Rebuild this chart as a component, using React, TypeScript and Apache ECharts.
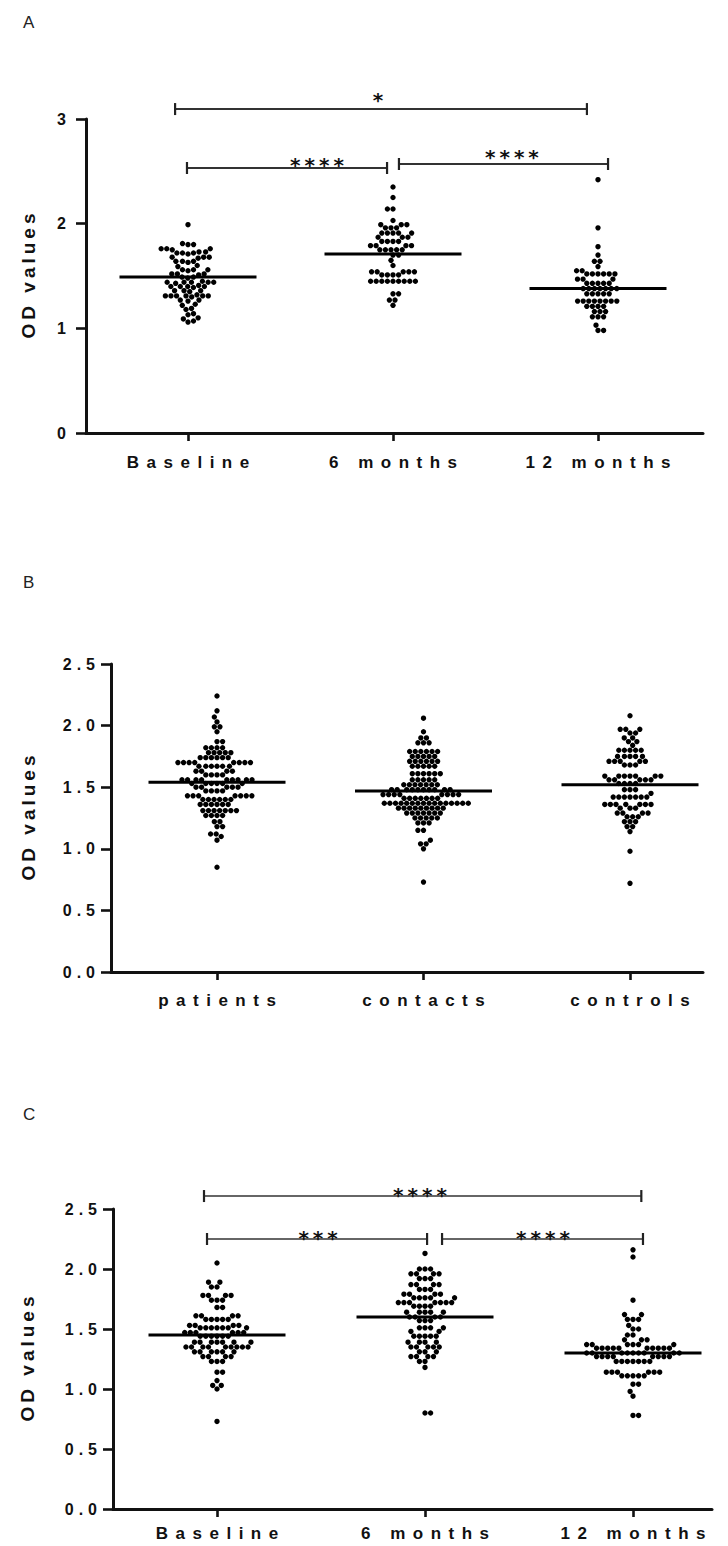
import React, { useEffect, useRef } from "react";
import * as echarts from "echarts";

// ---------------- data ----------------
const categoriesA = ["Baseline", "6 months", "12 months"];
const categoriesB = ["patients", "contacts", "controls"];
const categoriesC = ["Baseline", "6 months", "12 months"];

const yTicksA = [0, 1, 2, 3];
const yTicksB = [0, 0.5, 1.0, 1.5, 2.0, 2.5];
const yTicksC = [0, 0.5, 1.0, 1.5, 2.0, 2.5];

const mediansA = [1.49, 1.71, 1.38];
const mediansB = [1.54, 1.47, 1.52];
const mediansC = [1.45, 1.6, 1.3];

const aBaseline = [
  1.99,
  1.81, 1.8, 1.8,
  1.76, 1.76, 1.75, 1.76,
  1.72, 1.73, 1.72, 1.71, 1.72, 1.73,
  1.68, 1.68, 1.67, 1.68,
  1.64, 1.64, 1.63, 1.64,
  1.6, 1.59,
  1.56, 1.56, 1.55, 1.56,
  1.52, 1.52, 1.51, 1.52,
  1.49, 1.49, 1.48,
  1.44, 1.44, 1.44, 1.45, 1.44, 1.43, 1.44,
  1.4, 1.4, 1.39, 1.4, 1.4, 1.41,
  1.36, 1.36, 1.35, 1.36,
  1.31, 1.31, 1.32, 1.31, 1.31, 1.3, 1.31, 1.31,
  1.27, 1.27, 1.26,
  1.23, 1.22,
  1.19, 1.18,
  1.14, 1.13,
  1.1, 1.09,
  1.06, 1.07,
];
const a6months = [
  2.35, 2.25, 2.14, 2.14, 2.03,
  1.99, 1.99, 1.99,
  1.96, 1.96, 1.96,
  1.91, 1.91, 1.91, 1.91, 1.91,
  1.87, 1.87, 1.87,
  1.83, 1.83, 1.83, 1.83,
  1.79, 1.79, 1.79, 1.79,
  1.75, 1.75, 1.75, 1.75, 1.75,
  1.7, 1.7,
  1.65, 1.6,
  1.54, 1.54, 1.54, 1.54, 1.54,
  1.51, 1.51, 1.51, 1.51,
  1.45, 1.45, 1.45, 1.45, 1.45, 1.45, 1.45, 1.45, 1.45,
  1.33, 1.33,
  1.27, 1.27,
  1.22,
];
const a12months = [
  2.42, 1.96, 1.78, 1.7, 1.64, 1.64, 1.59, 1.55, 1.55,
  1.52, 1.52, 1.52, 1.52, 1.52, 1.52,
  1.47, 1.47, 1.47,
  1.43, 1.43, 1.43, 1.43, 1.43,
  1.38, 1.38, 1.38, 1.38, 1.38, 1.38, 1.38,
  1.33, 1.33, 1.33, 1.33, 1.33,
  1.26, 1.26, 1.26, 1.26, 1.26, 1.26, 1.26, 1.26,
  1.21, 1.21, 1.21, 1.21,
  1.16, 1.16, 1.16,
  1.11, 1.11, 1.11,
  1.03,
  0.98, 0.98,
];

const bPatients = [
  2.24, 2.12, 2.07, 2.03, 1.99, 1.99, 1.95,
  1.87, 1.87,
  1.82, 1.82, 1.82, 1.82,
  1.78, 1.78, 1.78, 1.78, 1.78,
  1.74, 1.74, 1.74, 1.74, 1.74, 1.74,
  1.7, 1.7, 1.7, 1.7, 1.7, 1.7, 1.7, 1.7,
  1.67, 1.67, 1.67, 1.67, 1.67, 1.67,
  1.63, 1.63, 1.63, 1.63,
  1.6, 1.6, 1.6, 1.6,
  1.56, 1.56, 1.56, 1.56, 1.56, 1.56, 1.56, 1.56, 1.56,
  1.53, 1.53, 1.53, 1.53, 1.53, 1.53,
  1.5, 1.5, 1.5, 1.5, 1.5,
  1.47, 1.47, 1.47, 1.47,
  1.43, 1.43, 1.43, 1.43, 1.43, 1.43, 1.43,
  1.4, 1.4, 1.4, 1.4, 1.4, 1.4,
  1.36, 1.36, 1.36, 1.36, 1.36, 1.36,
  1.31, 1.31, 1.31, 1.31, 1.31, 1.31, 1.31,
  1.27, 1.27, 1.27, 1.27,
  1.22, 1.22,
  1.18, 1.18,
  1.12, 1.12,
  1.1, 1.07,
  0.85,
];
const bContacts = [
  2.06, 1.95, 1.9, 1.9,
  1.86, 1.86, 1.86,
  1.79, 1.79, 1.79, 1.79, 1.79, 1.79,
  1.75, 1.75, 1.75, 1.75, 1.75,
  1.71, 1.71, 1.71, 1.71, 1.71, 1.71,
  1.67, 1.67, 1.67, 1.67, 1.67,
  1.61, 1.61, 1.61, 1.61, 1.61, 1.61,
  1.56, 1.56, 1.56, 1.56, 1.56,
  1.52, 1.52, 1.52, 1.52, 1.52, 1.52, 1.52,
  1.48, 1.48, 1.48, 1.48, 1.48, 1.48, 1.48, 1.48, 1.48, 1.48,
  1.44, 1.44, 1.44, 1.44, 1.44, 1.44, 1.44, 1.44,
  1.41, 1.41, 1.41, 1.41, 1.41, 1.41, 1.41,
  1.37, 1.37, 1.37, 1.37, 1.37, 1.37, 1.37, 1.37, 1.37, 1.37, 1.37, 1.37, 1.37, 1.37, 1.37, 1.37,
  1.33, 1.33, 1.33, 1.33, 1.33, 1.33, 1.33, 1.33, 1.33,
  1.29, 1.29, 1.29, 1.29, 1.29, 1.29, 1.29,
  1.25, 1.25, 1.25, 1.25, 1.25,
  1.21, 1.21, 1.21,
  1.15, 1.15,
  1.07, 1.04, 1.04, 1.0,
  0.73,
];
const bControls = [
  2.08,
  1.97, 1.97, 1.97,
  1.94, 1.94,
  1.9, 1.9,
  1.87, 1.87,
  1.84,
  1.8, 1.8, 1.8, 1.8, 1.8,
  1.75, 1.75, 1.75, 1.75, 1.75,
  1.71, 1.71, 1.71, 1.71, 1.71,
  1.68, 1.68, 1.68,
  1.59, 1.59, 1.59, 1.59, 1.59, 1.59, 1.59,
  1.56, 1.56, 1.56, 1.56, 1.56,
  1.53, 1.53, 1.53, 1.53,
  1.48, 1.48, 1.48,
  1.45,
  1.42, 1.42, 1.42, 1.42, 1.42, 1.42, 1.42,
  1.36, 1.36, 1.36, 1.36, 1.36, 1.36, 1.36,
  1.33, 1.33, 1.33,
  1.29, 1.29, 1.29, 1.29,
  1.26, 1.26, 1.26,
  1.22, 1.22, 1.22,
  1.18, 1.18,
  1.14,
  0.98,
  0.72,
];

const cBaseline = [
  2.05,
  1.89, 1.89, 1.85, 1.85,
  1.78, 1.78, 1.78, 1.78,
  1.74, 1.74, 1.74,
  1.68, 1.68,
  1.61, 1.61, 1.61, 1.61,
  1.58, 1.58, 1.58, 1.58, 1.58,
  1.53, 1.53, 1.53, 1.53,
  1.51, 1.51, 1.51, 1.51, 1.51, 1.51, 1.51,
  1.47, 1.47, 1.47, 1.47, 1.47, 1.47,
  1.44, 1.44, 1.44, 1.44, 1.44, 1.44,
  1.39, 1.39, 1.39, 1.39, 1.39, 1.39, 1.39,
  1.35, 1.35, 1.35, 1.35, 1.35, 1.35, 1.35, 1.35, 1.35,
  1.31, 1.31, 1.31, 1.31, 1.31, 1.31,
  1.27, 1.27, 1.27, 1.27,
  1.23, 1.23, 1.23,
  1.14, 1.14,
  1.07, 1.03, 1.03, 1.0,
  0.73,
];
const c6months = [
  2.13,
  2.0, 2.0, 2.0,
  1.96, 1.96, 1.96, 1.96,
  1.92, 1.92, 1.92,
  1.87, 1.87, 1.87, 1.87,
  1.83, 1.83, 1.83,
  1.79, 1.79, 1.79, 1.79,
  1.76, 1.76, 1.76, 1.76, 1.76,
  1.72, 1.72, 1.72, 1.72, 1.72, 1.72, 1.72,
  1.69, 1.69, 1.69, 1.69,
  1.64, 1.64, 1.64, 1.64, 1.64,
  1.6, 1.6, 1.6, 1.6,
  1.57, 1.57, 1.57,
  1.51, 1.51, 1.51, 1.51,
  1.48, 1.48,
  1.44, 1.44, 1.44, 1.44, 1.44,
  1.39, 1.39, 1.39, 1.39,
  1.35, 1.35, 1.35, 1.35, 1.35,
  1.31, 1.31, 1.31,
  1.27, 1.27, 1.27, 1.27,
  1.23, 1.23,
  1.18,
  0.8, 0.8,
];
const c12months = [
  2.16, 2.1, 1.74,
  1.62, 1.62,
  1.58, 1.58, 1.58,
  1.53,
  1.5, 1.5,
  1.45, 1.45,
  1.41, 1.41, 1.41,
  1.37, 1.37, 1.37, 1.37, 1.37, 1.37,
  1.34, 1.34, 1.34, 1.34, 1.34, 1.34, 1.34, 1.34, 1.34, 1.34,
  1.3, 1.3, 1.3, 1.3, 1.3, 1.3, 1.3, 1.3, 1.3,
  1.27, 1.27, 1.27, 1.27, 1.27, 1.27, 1.27, 1.27,
  1.23, 1.23, 1.23, 1.23, 1.23, 1.23, 1.23,
  1.14, 1.14, 1.14, 1.14, 1.14, 1.14,
  1.11, 1.11, 1.11, 1.11, 1.11,
  1.04, 1.04,
  0.98, 0.94,
  0.78, 0.78,
];

// brackets: [from category position, to category position, level]
const bracketsA = [
  [-0.063, 1.946, 3.095],
  [-0.005, 0.971, 2.532],
  [1.029, 2.049, 2.57],
];
const bracketLabelsA = ["*", "****", "****"];
const bracketLabelPosA = [
  [0.927, 3.22],
  [0.629, 2.6],
  [1.58, 2.675],
];
const bracketsC = [
  [-0.0625, 2.04, 2.608],
  [-0.048, 1.01, 2.25],
  [1.082, 2.048, 2.25],
];
const bracketLabelsC = ["****", "***", "****"];
const bracketLabelPosC = [
  [0.976, 2.65],
  [0.486, 2.29],
  [1.567, 2.29],
];

// ---------------- layout / style ----------------
const FONT = "'Liberation Sans', Arial, Helvetica, sans-serif";
const INK = "#111";
const DOT = 5.4;
const GAP = 5.6;

type PanelCfg = {
  letter: string;
  letterTop: number;
  cats: string[];
  groups: number[][];
  medians: number[];
  yTicks: number[];
  yDigits: number;
  grid: { left: number; top: number; width: number; height: number };
  catPx: number[];
  yLabelMargin: number;
  xLabelMargin: number;
  nameGap: number;
  brackets?: number[][];
  bracketLabels?: string[];
  bracketLabelPos?: number[][];
  bracketLine?: string;
  bracketTick?: string;
};

const panels: PanelCfg[] = [
  {
    letter: "A", letterTop: 9, cats: categoriesA, groups: [aBaseline, a6months, a12months],
    medians: mediansA, yTicks: yTicksA, yDigits: 0,
    grid: { left: 86, top: 119, width: 617, height: 314 }, catPx: [188, 393, 598],
    yLabelMargin: 20, xLabelMargin: 21, nameGap: 48,
    brackets: bracketsA, bracketLabels: bracketLabelsA, bracketLabelPos: bracketLabelPosA,
    bracketLine: "#333", bracketTick: "#222",
  },
  {
    letter: "B", letterTop: 569, cats: categoriesB, groups: [bPatients, bContacts, bControls],
    medians: mediansB, yTicks: yTicksB, yDigits: 1,
    grid: { left: 111, top: 664, width: 592, height: 308 }, catPx: [217, 423, 630],
    yLabelMargin: 16, xLabelMargin: 20, nameGap: 73,
  },
  {
    letter: "C", letterTop: 1101, cats: categoriesC, groups: [cBaseline, c6months, c12months],
    medians: mediansC, yTicks: yTicksC, yDigits: 1,
    grid: { left: 113, top: 1209, width: 599, height: 300 }, catPx: [217, 425, 633],
    yLabelMargin: 16, xLabelMargin: 16, nameGap: 76,
    brackets: bracketsC, bracketLabels: bracketLabelsC, bracketLabelPos: bracketLabelPosC,
    bracketLine: "#666", bracketTick: "#222",
  },
];

// beeswarm: horizontal pixel offsets so that dots do not overlap
function swarm(values: number[], pxPerY: number): number[] {
  const order = values.map((_, i) => i).sort((a, b) => values[a] - values[b]);
  const placed: { x: number; y: number }[] = [];
  const out = new Array(values.length).fill(0);
  let side = 1;
  for (const i of order) {
    const y = values[i] * pxPerY;
    const near = placed.filter((p) => Math.abs(p.y - y) < GAP);
    const cands = [0];
    for (const p of near) {
      const dx = Math.sqrt(GAP * GAP - (p.y - y) * (p.y - y));
      cands.push(p.x + dx, p.x - dx);
    }
    const ok = cands.filter((c) =>
      near.every((p) => (p.x - c) * (p.x - c) + (p.y - y) * (p.y - y) >= GAP * GAP - 1e-3)
    );
    ok.sort((a, b) => {
      const d = Math.abs(a) - Math.abs(b);
      if (Math.abs(d) > 0.05) return d;
      return side > 0 ? b - a : a - b;
    });
    const x = ok[0];
    if (Math.abs(x) > 0.05) side = x > 0 ? -1 : 1;
    placed.push({ x, y });
    out[i] = x;
  }
  return out;
}

function buildOption() {
  const grids: any[] = [];
  const xAxes: any[] = [];
  const yAxes: any[] = [];
  const series: any[] = [];
  const titles: any[] = [];

  panels.forEach((p, i) => {
    const spacing = (p.catPx[2] - p.catPx[0]) / 2;
    const xMin = (p.grid.left - p.catPx[0]) / spacing;
    const xMax = (p.grid.left + p.grid.width - p.catPx[0]) / spacing;
    const yMin = p.yTicks[0];
    const yMax = p.yTicks[p.yTicks.length - 1];
    const pxPerY = p.grid.height / (yMax - yMin);

    titles.push({
      text: p.letter, left: 18, top: p.letterTop,
      textStyle: { fontSize: 17, fontWeight: "normal", color: "#222", fontFamily: "'Liberation Sans Narrow', " + FONT },
    });

    grids.push({ ...p.grid, containLabel: false, outerBoundsMode: "none" });

    xAxes.push({
      type: "value", gridIndex: i, min: xMin, max: xMax,
      axisLine: { show: true, onZero: false, lineStyle: { color: INK, width: 3 } },
      axisTick: { show: true, customValues: [0, 1, 2], length: 8, lineStyle: { color: INK, width: 2.6 } },
      axisLabel: {
        show: true, customValues: [0, 1, 2], margin: p.xLabelMargin,
        formatter: (v: number) => p.cats[Math.round(v)] ?? "",
        fontSize: 17, fontWeight: "bold", color: INK, fontFamily: FONT,
      },
      splitLine: { show: false },
    });

    yAxes.push({
      type: "value", gridIndex: i, min: yMin, max: yMax, interval: p.yTicks[1] - p.yTicks[0],
      axisLine: { show: true, onZero: false, lineStyle: { color: INK, width: 3 } },
      axisTick: { show: true, length: 10, lineStyle: { color: INK, width: 2.6 } },
      axisLabel: {
        margin: p.yLabelMargin, fontSize: 16, fontWeight: "bold", color: INK, fontFamily: FONT,
        formatter: (v: number) => v.toFixed(p.yDigits),
      },
      splitLine: { show: false },
      name: "OD values", nameLocation: "middle", nameRotate: 90, nameGap: p.nameGap,
      nameTextStyle: { fontSize: 19, fontWeight: "bold", color: INK, fontFamily: FONT },
    });

    const dots: number[][] = [];
    p.groups.forEach((vals, g) => {
      const offs = swarm(vals, pxPerY);
      vals.forEach((v, k) => dots.push([g + offs[k] / spacing, v]));
    });
    series.push({
      type: "scatter", xAxisIndex: i, yAxisIndex: i, data: dots, symbol: "circle",
      symbolSize: DOT, itemStyle: { color: "#000", opacity: 1 }, silent: true, z: 3,
    });
    series.push({
      type: "scatter", xAxisIndex: i, yAxisIndex: i,
      data: p.medians.map((m, g) => [g, m]), symbol: "rect", symbolSize: [137, 3],
      itemStyle: { color: "#000", opacity: 1 }, silent: true, z: 4,
    });

    if (p.brackets) {
      const labels = p.bracketLabels!;
      const lpos = p.bracketLabelPos!;
      series.push({
        type: "custom", xAxisIndex: i, yAxisIndex: i, silent: true, clip: false, z: 5,
        data: p.brackets,
        renderItem: (params: any, api: any) => {
          const k = params.dataIndex;
          const a = api.coord([api.value(0), api.value(2)]);
          const b = api.coord([api.value(1), api.value(2)]);
          const lp = api.coord(lpos[k]);
          const h = 6;
          return {
            type: "group",
            children: [
              { type: "line", shape: { x1: a[0], y1: a[1], x2: b[0], y2: b[1] }, style: { stroke: p.bracketLine, lineWidth: 2 } },
              { type: "line", shape: { x1: a[0], y1: a[1] - h, x2: a[0], y2: a[1] + h }, style: { stroke: p.bracketTick, lineWidth: 2.2 } },
              { type: "line", shape: { x1: b[0], y1: b[1] - h, x2: b[0], y2: b[1] + h }, style: { stroke: p.bracketTick, lineWidth: 2.2 } },
              {
                type: "text", x: lp[0], y: lp[1] + 4,
                style: {
                  text: labels[k], fill: "#111", fontSize: 20, fontWeight: "bold",
                  fontFamily: "'DejaVu Sans', sans-serif",
                  align: "center", verticalAlign: "middle",
                },
              },
            ],
          };
        },
      });
    }
  });

  return {
    animation: false,
    backgroundColor: "#ffffff",
    textStyle: { fontFamily: FONT },
    title: titles,
    grid: grids,
    xAxis: xAxes,
    yAxis: yAxes,
    series,
  };
}

const allCats = new Set([...categoriesA, ...categoriesB, ...categoriesC]);

function applySpacing(root: HTMLElement) {
  root.querySelectorAll("text").forEach((el: any) => {
    if (el.getAttribute("data-ls")) return;
    const t = (el.textContent || "").trim();
    let ls = 0;
    if (allCats.has(t)) ls = 7.5;
    else if (t === "OD values") ls = 4;
    else if (/^\*+$/.test(t)) ls = 4;
    else if (/^\d\.\d$/.test(t)) ls = 5;
    if (!ls) return;
    el.setAttribute("data-ls", "1");
    el.style.letterSpacing = ls + "px";
    const anchor = el.getAttribute("text-anchor") || getComputedStyle(el).textAnchor;
    const shift = anchor === "middle" ? ls / 2 : anchor === "end" ? ls : 0;
    if (shift) {
      const x = parseFloat(el.getAttribute("x") || "0");
      el.setAttribute("x", String(x + shift));
    }
  });
}

export default function App() {
  const ref = useRef<HTMLDivElement>(null);
  useEffect(() => {
    document.body.style.margin = "0";
    if (!ref.current) return;
    const chart = echarts.init(ref.current, undefined, { renderer: "svg" });
    const el = ref.current;
    chart.on("finished", () => applySpacing(el));
    chart.setOption(buildOption() as any);
    applySpacing(el);
    return () => {
      chart.dispose();
    };
  }, []);
  return <div ref={ref} style={{ width: 728, height: 1546, background: "#fff" }} />;
}
